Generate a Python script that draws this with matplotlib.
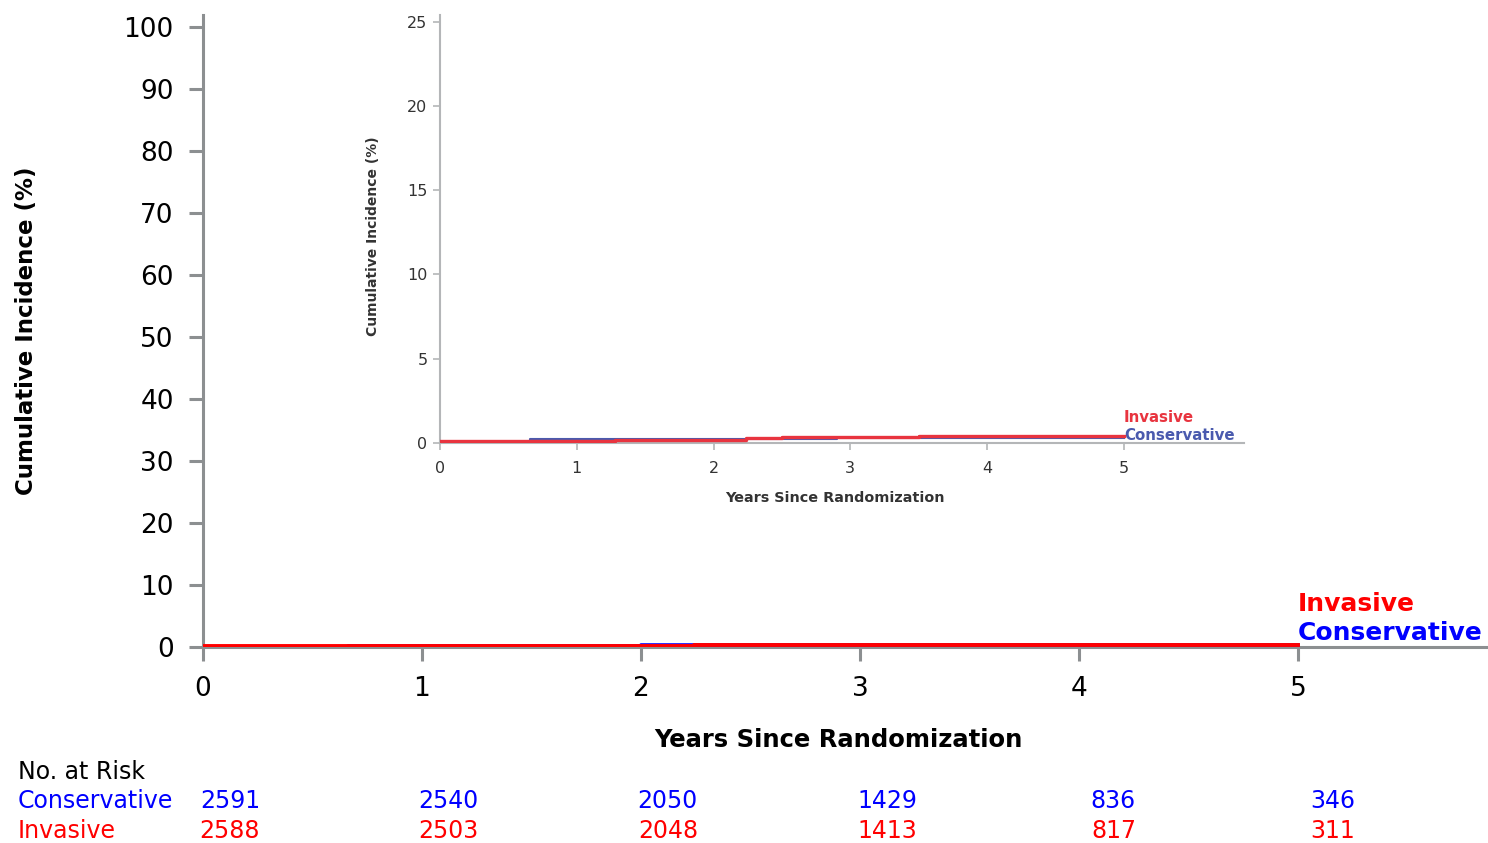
import numpy as np
import matplotlib
matplotlib.use("Agg")
import matplotlib.pyplot as plt
import matplotlib.transforms as mtransforms

# Cumulative incidence (%) step curves
inv_t = [0.0, 0.30, 1.28, 2.24, 2.50, 3.50, 5.0]
inv_y = [0.10, 0.12, 0.20, 0.28, 0.36, 0.40, 0.40]
con_t = [0.0, 0.66, 2.00, 2.90, 3.50, 5.0]
con_y = [0.08, 0.22, 0.25, 0.28, 0.30, 0.30]

# Number at risk table
risk_years = [0, 1, 2, 3, 4, 5]
risk_con = [2591, 2540, 2050, 1429, 836, 346]
risk_inv = [2588, 2503, 2048, 1413, 817, 311]

main_ticks_y = [0, 10, 20, 30, 40, 50, 60, 70, 80, 90, 100]
inset_ticks_y = [0, 5, 10, 15, 20, 25]
x_ticks = [0, 1, 2, 3, 4, 5]

RED = '#ff0000'
BLUE = '#0000ff'
GREY = '#8c8f91'

W, H = 1488, 843
fig = plt.figure(figsize=(W / 100, H / 100), dpi=100)

# main axes
ax = fig.add_axes([203 / W, 1 - 647 / H, (W - 203) / W, (647 - 15) / H])
ax.step(con_t, con_y, where='post', color=BLUE, lw=2.6, zorder=3)
ax.step(inv_t, inv_y, where='post', color=RED, lw=2.8, zorder=4)
ax.set_xlim(0, (W - 203) / 219.0)
ax.set_ylim(0, 102)
ax.set_xticks(x_ticks)
ax.set_yticks(main_ticks_y)
for s in ['top', 'right']:
    ax.spines[s].set_visible(False)
for s in ['left', 'bottom']:
    ax.spines[s].set_color(GREY)
    ax.spines[s].set_linewidth(2.2)
ax.tick_params(axis='both', colors=GREY, width=2.2, length=10, labelsize=19,
               labelcolor='black')
ax.tick_params(axis='x', pad=11)
ax.tick_params(axis='y', pad=11)
ax.set_ylabel('Cumulative Incidence (%)', fontsize=16.5, fontweight='bold')
ax.yaxis.set_label_coords((27 - 203) / (W - 203), 0.5)
ax.yaxis.label.set_va('center')
ax.set_xlabel('Years Since Randomization', fontsize=17.5, fontweight='bold')
ax.xaxis.set_label_coords((838 - 203) / (W - 203), -(740 - 647) / (647 - 15))
ax.xaxis.label.set_va('center')

ax.text(5.0, 7.0, 'Invasive', color=RED, fontsize=18, fontweight='bold',
        ha='left', va='center')
ax.text(5.0, 2.2, 'Conservative', color=BLUE, fontsize=18, fontweight='bold',
        ha='left', va='center')

# number at risk rows
trans = mtransforms.blended_transform_factory(ax.transData, fig.transFigure)
fig.text(18 / W, 1 - 772 / H, 'No. at Risk', fontsize=17, va='center', ha='left')
fig.text(18 / W, 1 - 801 / H, 'Conservative', fontsize=17, va='center', ha='left', color=BLUE)
fig.text(18 / W, 1 - 831 / H, 'Invasive', fontsize=17, va='center', ha='left', color=RED)
for yr, c, i in zip(risk_years, risk_con, risk_inv):
    ax.text(yr + 0.26, 1 - 801 / H, str(c), transform=trans, fontsize=17,
            va='center', ha='right', color=BLUE, clip_on=False)
    ax.text(yr + 0.26, 1 - 831 / H, str(i), transform=trans, fontsize=17,
            va='center', ha='right', color=RED, clip_on=False)

# inset axes
IRED = '#e8343f'
IBLUE = '#4a5aae'
IGREY = '#b4b6b8'
ins = fig.add_axes([440 / W, 1 - 443 / H, (1244 - 440) / W, (443 - 15) / H])
ins.set_facecolor('none')
ins.step(con_t, con_y, where='post', color=IBLUE, lw=1.5, zorder=3)
ins.step(inv_t, inv_y, where='post', color=IRED, lw=2.4, zorder=4)
ins.set_xlim(0, (1244 - 441) / 136.6)
ins.set_ylim(0, 25.4)
ins.set_xticks(x_ticks)
ins.set_yticks(inset_ticks_y)
for s in ['top', 'right']:
    ins.spines[s].set_visible(False)
for s in ['left', 'bottom']:
    ins.spines[s].set_color(IGREY)
    ins.spines[s].set_linewidth(1.5)
ins.tick_params(axis='both', colors=IGREY, width=1.2, length=5, labelsize=11.5,
                labelcolor='#333333')
ins.tick_params(axis='x', pad=8)
ins.tick_params(axis='y', pad=4)
ins.set_ylabel('Cumulative Incidence (%)', fontsize=10, fontweight='bold', color='#333333')
ins.yaxis.set_label_coords(-(440 - 373) / (1244 - 440), (443 - 236) / (443 - 15))
ins.yaxis.label.set_va('center')
ins.set_xlabel('Years Since Randomization', fontsize=10.4, fontweight='bold', color='#333333')
ins.xaxis.set_label_coords((835 - 440) / (1244 - 440), -(498 - 443) / (443 - 15))
ins.xaxis.label.set_va('center')
ins.text(5.0, 1.5, 'Invasive', color=IRED, fontsize=10.8, fontweight='bold',
         ha='left', va='center')
ins.text(5.0, 0.45, 'Conservative', color=IBLUE, fontsize=10.8, fontweight='bold',
         ha='left', va='center')

fig.savefig('out.png', dpi=100)
